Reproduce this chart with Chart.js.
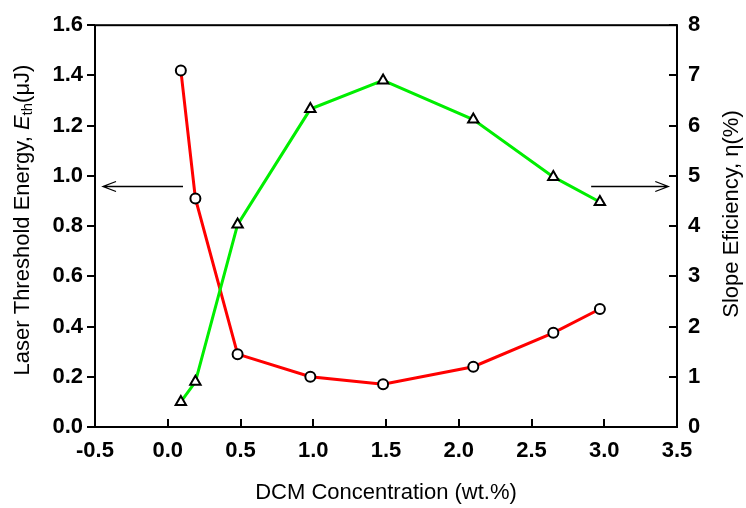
<!DOCTYPE html>
<html>
<head>
<meta charset="utf-8">
<script src="https://cdn.jsdelivr.net/npm/chart.js@4"></script>
<style>
  html, body { margin: 0; padding: 0; background: #fff; }
  #wrap { width: 746px; height: 508px; }
</style>
</head>
<body>
<div id="wrap"><canvas id="chart" width="746" height="508"></canvas></div>
<script>
// DCM concentration (wt.%) and the two measured series
const concentration   = [0.09, 0.19, 0.48, 0.98, 1.48, 2.10, 2.65, 2.97];
const thresholdEnergy = [1.42, 0.91, 0.29, 0.20, 0.17, 0.24, 0.375, 0.47];
const slopeEfficiency = [0.50, 0.90, 4.03, 6.33, 6.90, 6.12, 4.98, 4.48];

const xTickStep = 0.5;
const leftTickStep = 0.2;
const rightTickStep = 1;

// arrows pointing at each series' axis (x from -> to, at a left-axis value)
const arrowFromX = [0.105, 2.91];
const arrowToX   = [-0.445, 3.44];
const arrowY     = [0.96, 0.96];

const FONT = '"Liberation Sans", Arial, Helvetica, sans-serif';

const toPoints = (xs, ys) => xs.map((x, i) => ({ x, y: ys[i] }));

const framePlugin = {
  id: 'frame',
  afterDraw(chart) {
    const { ctx, chartArea: a, scales } = chart;
    ctx.save();
    ctx.strokeStyle = '#000';
    ctx.lineWidth = 2;
    ctx.strokeRect(a.left, a.top, a.right - a.left, a.bottom - a.top);

    // ticks: left outward, bottom and right inward
    ctx.beginPath();
    scales.y.ticks.forEach(t => {
      const p = Math.round(scales.y.getPixelForValue(t.value));
      ctx.moveTo(a.left - 8, p); ctx.lineTo(a.left, p);
    });
    scales.y2.ticks.forEach(t => {
      const p = Math.round(scales.y2.getPixelForValue(t.value));
      ctx.moveTo(a.right - 8, p); ctx.lineTo(a.right, p);
    });
    scales.x.ticks.forEach(t => {
      const p = Math.round(scales.x.getPixelForValue(t.value));
      ctx.moveTo(p, a.bottom - 8); ctx.lineTo(p, a.bottom);
    });
    ctx.stroke();

    // arrows
    ctx.lineWidth = 1.3;
    ctx.beginPath();
    arrowFromX.forEach((fx, i) => {
      const x1 = scales.x.getPixelForValue(fx);
      const x2 = scales.x.getPixelForValue(arrowToX[i]);
      const y = Math.round(scales.y.getPixelForValue(arrowY[i])) + 0.5;
      const dir = x2 > x1 ? 1 : -1;
      ctx.moveTo(x1, y); ctx.lineTo(x2, y);
      ctx.moveTo(x2 - dir * 13, y - 5); ctx.lineTo(x2, y); ctx.lineTo(x2 - dir * 13, y + 5);
    });
    ctx.stroke();

    // axis titles
    ctx.fillStyle = '#000';
    ctx.textBaseline = 'middle';
    ctx.textAlign = 'center';
    ctx.font = '22px ' + FONT;
    ctx.fillText('DCM Concentration (wt.%)', (a.left + a.right) / 2, 493);

    ctx.save();
    ctx.translate(732, 214);
    ctx.rotate(-Math.PI / 2);
    ctx.fillText('Slope Eficiency, \u03b7(%)', 0, 0);
    ctx.restore();

    // left title with italic E and subscript th
    const parts = [
      { t: 'Laser Threshold Energy, ', f: '22px ' + FONT, dy: 0 },
      { t: 'E', f: 'italic 22px ' + FONT, dy: 0 },
      { t: 'th', f: '15px ' + FONT, dy: 5 },
      { t: '(\u03bcJ)', f: '22px ' + FONT, dy: 0 }
    ];
    let total = 0;
    parts.forEach(p => { ctx.font = p.f; p.w = ctx.measureText(p.t).width; total += p.w; });
    ctx.save();
    ctx.translate(23, 220);
    ctx.rotate(-Math.PI / 2);
    ctx.textAlign = 'left';
    let x = -total / 2;
    parts.forEach(p => { ctx.font = p.f; ctx.fillText(p.t, x, p.dy); x += p.w; });
    ctx.restore();
    ctx.restore();
  }
};

const tickFont = { family: FONT, size: 22, weight: 'bold' };

new Chart(document.getElementById('chart'), {
  type: 'line',
  data: {
    datasets: [{
      label: 'Slope efficiency',
      data: toPoints(concentration, slopeEfficiency),
      yAxisID: 'y2',
      borderColor: '#00ee00',
      borderWidth: 3,
      pointStyle: 'triangle',
      pointRadius: 6,
      pointBackgroundColor: '#fff',
      pointBorderColor: '#000',
      pointBorderWidth: 2,
      tension: 0
    }, {
      label: 'Threshold energy',
      data: toPoints(concentration, thresholdEnergy),
      yAxisID: 'y',
      borderColor: '#ff0000',
      borderWidth: 3,
      pointStyle: 'circle',
      pointRadius: 5,
      pointBackgroundColor: '#fff',
      pointBorderColor: '#000',
      pointBorderWidth: 2,
      tension: 0
    }]
  },
  options: {
    responsive: false,
    animation: false,
    layout: { padding: { top: 14 } },
    scales: {
      x: {
        type: 'linear',
        min: -0.5, max: 3.5,
        ticks: { stepSize: xTickStep, color: '#000', font: tickFont, padding: 11, callback: v => v.toFixed(1) },
        grid: { display: false, drawTicks: false },
        border: { display: false },
        afterFit: s => { s.height = 81; }
      },
      y: {
        position: 'left',
        min: 0, max: 1.6,
        ticks: { stepSize: leftTickStep, color: '#000', font: tickFont, padding: 12, callback: v => v.toFixed(1) },
        grid: { display: false, drawTicks: false },
        border: { display: false },
        afterFit: s => { s.width = 95; }
      },
      y2: {
        position: 'right',
        min: 0, max: 8,
        ticks: { stepSize: rightTickStep, color: '#000', font: tickFont, padding: 11 },
        grid: { display: false, drawTicks: false },
        border: { display: false },
        afterFit: s => { s.width = 69; }
      }
    },
    plugins: { legend: { display: false }, tooltip: { enabled: false } }
  },
  plugins: [framePlugin]
});
</script>
</body>
</html>
